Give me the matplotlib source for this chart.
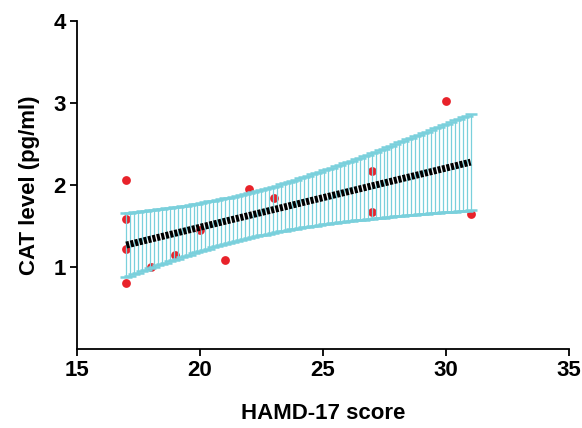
import numpy as np
import matplotlib.pyplot as plt

# HAMD-17 score vs CAT level
hamd = [17, 17, 17, 17, 18, 19, 20, 21, 22, 23, 27, 27, 30, 31]
cat = [2.06, 1.585, 1.22, 0.80, 1.0, 1.15, 1.45, 1.09, 1.95, 1.84, 2.17, 1.67, 3.02, 1.65]

x_ticks = [15, 20, 25, 30, 35]
y_ticks = [1, 2, 3, 4]

plt.rcParams['font.family'] = ['Liberation Sans', 'DejaVu Sans']
plt.rcParams['font.weight'] = 'bold'

x = np.array(hamd, dtype=float)
y = np.array(cat, dtype=float)
n = len(x)

# linear fit with 95% confidence band
slope, icpt = np.polyfit(x, y, 1)
resid = y - (slope * x + icpt)
s = np.sqrt(np.sum(resid ** 2) / (n - 2))
t_crit = 2.179  # t(0.975, df=12)
xs = np.linspace(x.min(), x.max(), 88)
fit = slope * xs + icpt
half = t_crit * s * np.sqrt(1.0 / n + (xs - x.mean()) ** 2 / np.sum((x - x.mean()) ** 2))

fig = plt.figure(figsize=(5.82, 4.28), dpi=100)
ax = fig.add_axes([0.1323, 0.1846, 0.8454, 0.7664])

ax.scatter(x, y, s=40, color='#E8222A', zorder=2, linewidths=0)
ax.errorbar(xs, fit, yerr=half, fmt='none', ecolor='#7AD0DC', elinewidth=0.9,
            capsize=4, capthick=1.8, zorder=3)
ax.plot(xs, fit, color='black', lw=5, linestyle=(0, (0.45, 0.2)), zorder=4)

ax.set_xlim(15, 35)
ax.set_ylim(0, 4)
ax.set_xticks(x_ticks)
ax.set_yticks(y_ticks)
ax.tick_params(labelsize=16, width=1.3, length=5, pad=3)
for lab in ax.get_xticklabels() + ax.get_yticklabels():
    lab.set_fontweight('bold')

for side in ['top', 'right']:
    ax.spines[side].set_visible(False)
for side in ['left', 'bottom']:
    ax.spines[side].set_linewidth(1.3)

ax.set_xlabel('HAMD-17 score', fontsize=16, fontweight='bold', labelpad=16)
ax.set_ylabel('CAT level (pg/ml)', fontsize=16, fontweight='bold', labelpad=10)

fig.savefig('out.png', dpi=100)
